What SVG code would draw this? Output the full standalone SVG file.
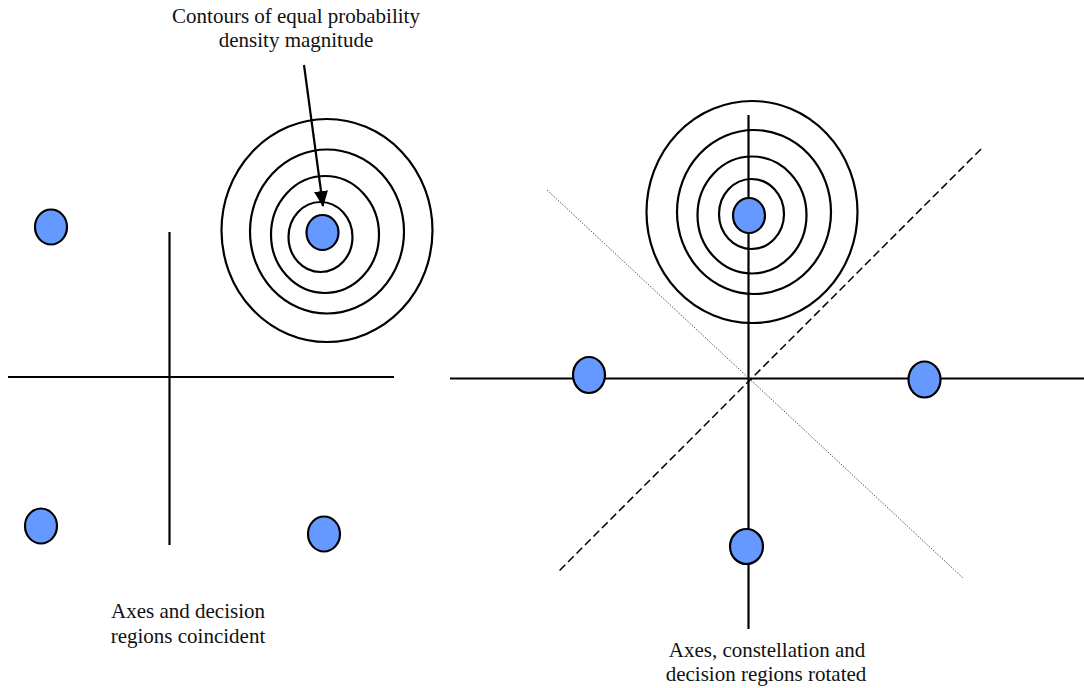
<svg xmlns="http://www.w3.org/2000/svg" width="1084" height="688" viewBox="0 0 1084 688">
<style>
.ax{stroke:#000;stroke-width:2.2;fill:none}
.ring{stroke:#000;stroke-width:2.2;fill:none}
.dot{fill:#6699FF;stroke:#000;stroke-width:2.2}
.lbl{font-family:"Liberation Serif","Times New Roman",serif;font-size:21px;fill:#111;text-anchor:middle}
.dash{stroke:#000;stroke-width:1.5;stroke-dasharray:8 4;fill:none}
.dotted{stroke:#555;stroke-width:1;stroke-dasharray:1.5 1.5;fill:none}
</style>
<defs>
<marker id="ah" markerWidth="16" markerHeight="14" refX="15" refY="7" orient="auto" markerUnits="userSpaceOnUse" viewBox="0 0 16 14">
<path d="M0,0 L16,7 L0,14 z" fill="#000"/>
</marker>
</defs>
<rect width="1084" height="688" fill="#fff"/>
<g id="connectors">
<line class="ax" x1="8" y1="377" x2="394" y2="377"/>
<line class="ax" x1="169.5" y1="232" x2="169.5" y2="545"/>
<line class="ax" x1="450" y1="378.5" x2="1084" y2="378.5"/>
<line class="ax" x1="748.5" y1="115" x2="748.5" y2="629"/>
<line class="dash" x1="981" y1="149" x2="559" y2="571"/>
<line class="dotted" x1="547" y1="190" x2="963" y2="578"/>
<line x1="304" y1="65" x2="323" y2="206" stroke="#000" stroke-width="2.2" marker-end="url(#ah)"/>
</g>
<g id="contours-left">
<ellipse class="ring" cx="327" cy="230.5" rx="105.5" ry="111.5"/>
<ellipse class="ring" cx="327" cy="231.5" rx="77" ry="82"/>
<ellipse class="ring" cx="325" cy="234.5" rx="54" ry="58.5"/>
<ellipse class="ring" cx="320.5" cy="237" rx="32" ry="35"/>
</g>
<g id="contours-right">
<ellipse class="ring" cx="752" cy="212" rx="105.5" ry="111"/>
<ellipse class="ring" cx="754" cy="212" rx="77" ry="82"/>
<ellipse class="ring" cx="752" cy="215" rx="54.5" ry="58.5"/>
<ellipse class="ring" cx="751.5" cy="214" rx="32.5" ry="35"/>
</g>
<g id="left-dot-tl"><ellipse class="dot" cx="51" cy="227" rx="16" ry="17.5"/></g>
<g id="left-dot-bl"><ellipse class="dot" cx="41" cy="526" rx="16" ry="17.5"/></g>
<g id="left-dot-br"><ellipse class="dot" cx="324" cy="534" rx="16" ry="17.5"/></g>
<g id="left-dot-tr"><ellipse class="dot" cx="322.5" cy="232.5" rx="16" ry="17.5"/></g>
<g id="right-dot-top"><ellipse class="dot" cx="749" cy="215.5" rx="16" ry="17.5"/></g>
<g id="right-dot-left"><ellipse class="dot" cx="589" cy="375" rx="16" ry="18"/></g>
<g id="right-dot-right"><ellipse class="dot" cx="924.5" cy="379.5" rx="16" ry="18"/></g>
<g id="right-dot-bottom"><ellipse class="dot" cx="746.5" cy="546.5" rx="16.5" ry="17.5"/></g>
<g id="label-contours">
<text class="lbl" x="296" y="22.5">Contours of equal probability</text>
<text class="lbl" x="296" y="46.5">density magnitude</text>
</g>
<g id="label-left">
<text class="lbl" x="188" y="618">Axes and decision</text>
<text class="lbl" x="188" y="643">regions coincident</text>
</g>
<g id="label-right">
<text class="lbl" x="767" y="656.5">Axes, constellation and</text>
<text class="lbl" x="766" y="680.5">decision regions rotated</text>
</g>
</svg>
